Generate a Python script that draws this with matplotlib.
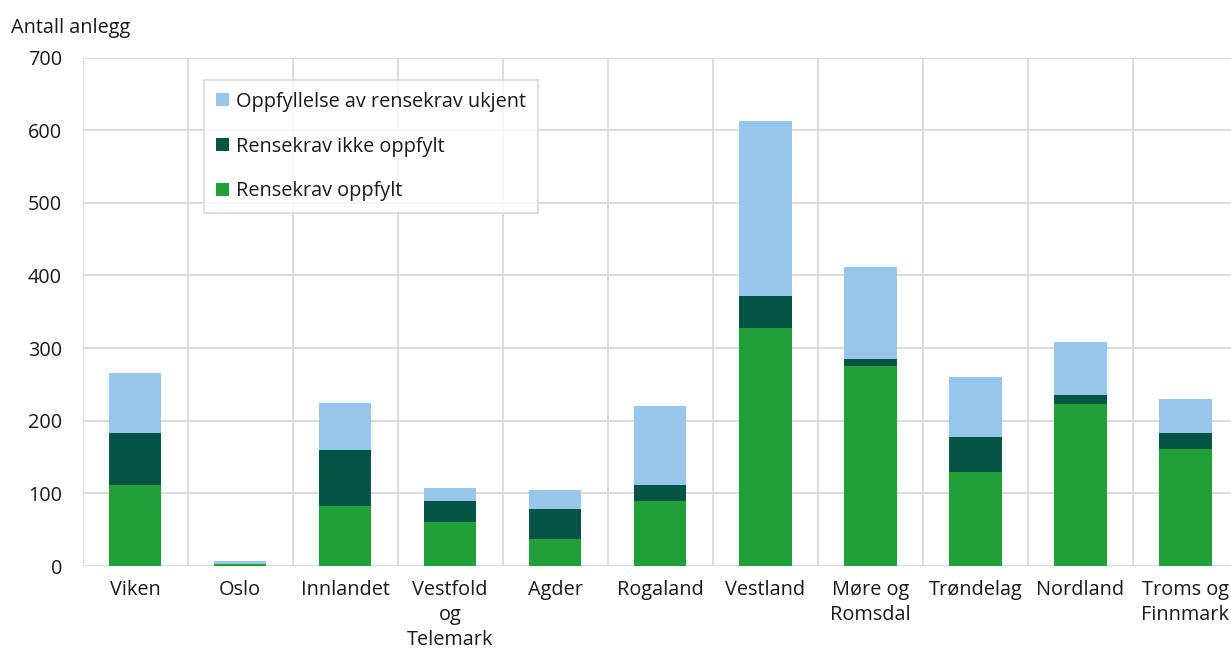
import numpy as np
import matplotlib as mpl
mpl.use('Agg')
import matplotlib.pyplot as plt

# data
regions = ["Viken", "Oslo", "Innlandet", "Vestfold\nog\nTelemark", "Agder", "Rogaland",
           "Vestland", "Møre og\nRomsdal", "Trøndelag", "Nordland", "Troms og\nFinnmark"]
oppfylt      = [111, 3, 82, 60, 37, 89, 327, 275, 130, 223, 161]
ikke_oppfylt = [72, 0, 78, 30, 42, 23, 45, 10, 47, 13, 22]
ukjent       = [83, 4, 65, 17, 26, 108, 241, 127, 83, 72, 47]
yticks = [0, 100, 200, 300, 400, 500, 600, 700]

plt.rcParams['font.family'] = ['Open Sans', 'DejaVu Sans']
FS = 14.3
GRID = '#d9d9d9'
TXT = '#1a1a1a'

fig = plt.figure(figsize=(12.31, 6.53), dpi=100)
ax = fig.add_axes([0.0672, 0.1332, 0.9383, 0.7787])

x = np.arange(len(regions))
oppfylt = np.array(oppfylt)
ikke_oppfylt = np.array(ikke_oppfylt)
ukjent = np.array(ukjent)
w = 0.5
b1 = ax.bar(x, oppfylt, w, color='#21a03a', label='Rensekrav oppfylt', zorder=3)
b2 = ax.bar(x, ikke_oppfylt, w, bottom=oppfylt, color='#025444', label='Rensekrav ikke oppfylt', zorder=3)
b3 = ax.bar(x, ukjent, w, bottom=oppfylt + ikke_oppfylt, color='#96c6ec',
            label='Oppfyllelse av rensekrav ukjent', zorder=3)

ax.set_xlim(-0.5, len(regions) - 0.5)
ax.set_ylim(0, 700)
ax.set_yticks(yticks)
ax.set_xticks(x)
ax.set_xticklabels(regions, fontsize=FS, color=TXT, linespacing=1.35)
ax.set_xticks(np.arange(-0.5, len(regions)), minor=True)
ax.tick_params(axis='both', which='both', length=0)
ax.tick_params(axis='y', labelsize=FS, labelcolor=TXT, pad=15)
ax.tick_params(axis='x', pad=10)

ax.grid(axis='y', which='major', color=GRID, linewidth=1.3, zorder=0)
ax.grid(axis='x', which='minor', color=GRID, linewidth=1.3, zorder=0)
for s in ax.spines.values():
    s.set_visible(False)

fig.text(11 / 1231, 1 - 28 / 653, "Antall anlegg", fontsize=FS, color=TXT, va='center', ha='left')

leg = ax.legend(handles=[b3, b2, b1], loc='upper left', bbox_to_anchor=(0.105, 0.956),
                fontsize=FS, frameon=True, fancybox=False, edgecolor=GRID,
                handlelength=0.65, handleheight=0.65, handletextpad=0.35,
                labelspacing=1.25, borderpad=0.6, borderaxespad=0)
leg.get_frame().set_linewidth(1.5)
for t in leg.get_texts():
    t.set_color(TXT)

plt.savefig('out.png', dpi=100)
